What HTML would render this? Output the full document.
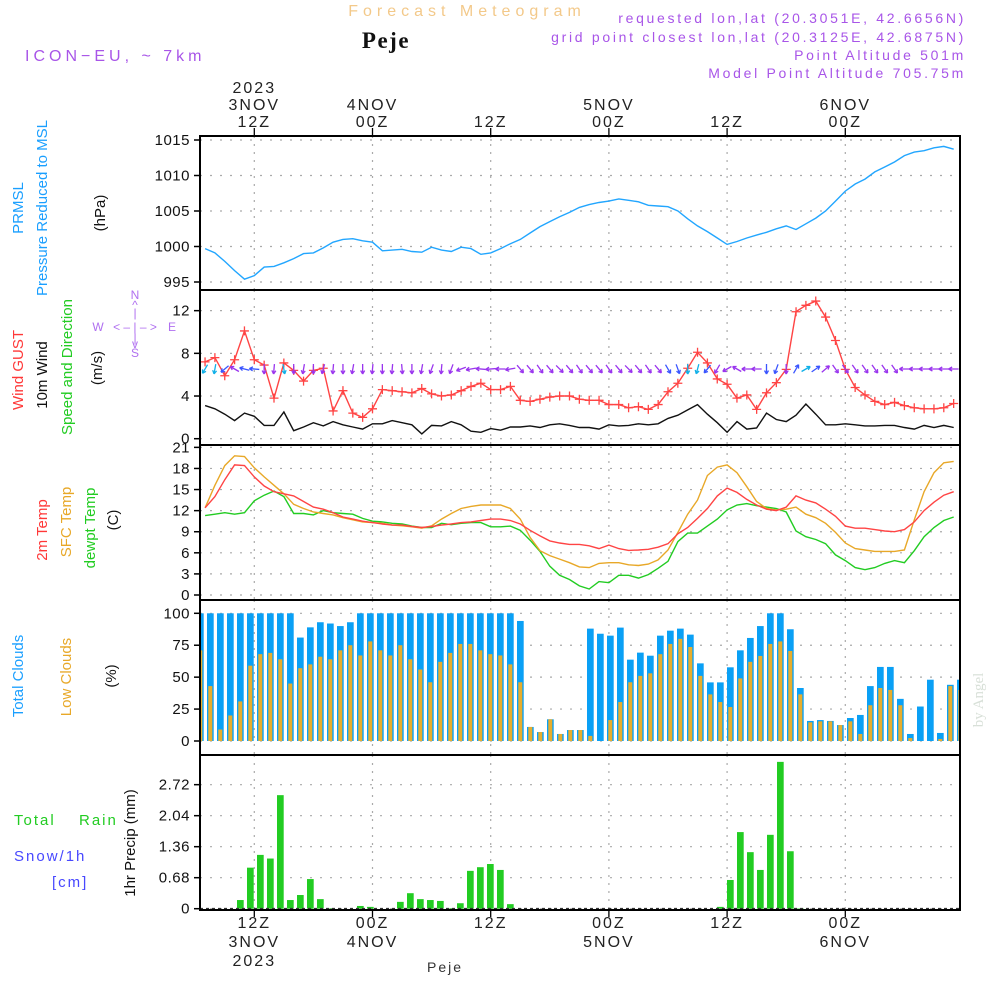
<!DOCTYPE html>
<html><head><meta charset="utf-8"><style>
html,body{margin:0;padding:0;background:#fff;width:1000px;height:1000px;overflow:hidden}
svg{display:block;font-family:"Liberation Sans",sans-serif}
</style></head><body>
<svg id="chart" width="1000" height="1000" viewBox="0 0 1000 1000" xmlns="http://www.w3.org/2000/svg">
<g id="hdr">
<text x="467" y="16" text-anchor="middle" font-size="16" fill="#f3c98a" letter-spacing="5">Forecast Meteogram</text>
<text x="386" y="48" text-anchor="middle" font-size="23" font-weight="bold" font-family="Liberation Serif,serif" fill="#111" letter-spacing="1.5">Peje</text>
<text x="25" y="61" font-size="16" fill="#a855e8" letter-spacing="4">ICON−EU, ~ 7km</text>
<g font-size="14" fill="#a855e8" text-anchor="end" letter-spacing="2.7">
<text x="966" y="23">requested lon,lat (20.3051E, 42.6656N)</text>
<text x="966" y="42">grid point closest lon,lat (20.3125E, 42.6875N)</text>
<text x="966" y="60">Point Altitude 501m</text>
<text x="966" y="78">Model Point Altitude 705.75m</text>
</g>
</g>
<g id="labels" font-size="15"></g>
<g id="plot"></g>
</svg>
<script>
// ---- data (hourly, 07Z 3NOV .. 11Z 6NOV) ----
const hourOffsets = [7,8,9,10,11,12,13,14,15,16,17,18,19,20,21,22,23,24,25,26,27,28,29,30,31,32,33,34,35,36,37,38,39,40,41,42,43,44,45,46,47,48,49,50,51,52,53,54,55,56,57,58,59,60,61,62,63,64,65,66,67,68,69,70,71,72,73,74,75,76,77,78,79,80,81,82,83];
const pressure = [999.7,999.1,997.9,996.6,995.4,995.9,997.1,997.2,997.7,998.3,999.0,999.1,999.8,1000.6,1001.0,1001.1,1000.8,1000.6,999.4,999.5,999.6,999.3,999.2,999.9,999.5,999.3,999.9,999.7,998.9,999.1,999.7,1000.4,1001.0,1001.9,1002.8,1003.5,1004.2,1004.8,1005.5,1005.9,
1006.2,1006.4,1006.7,1006.5,1006.3,1005.8,1005.7,1005.6,1005.0,1003.9,1002.9,1002.1,1001.2,1000.3,1000.7,1001.2,1001.6,1002.0,1002.5,1002.9,1002.4,1003.2,1004.0,1005.0,1006.4,1007.8,1008.8,1009.5,1010.5,1011.2,1011.9,1012.8,1013.3,1013.5,1013.9,1014.1,1013.7];
const gust = [7.2,7.6,5.9,7.4,10.1,7.4,6.9,3.8,7.1,6.4,5.4,6.4,6.6,2.6,4.5,2.4,2.0,2.8,4.6,4.5,4.4,4.3,4.7,4.2,4.0,4.1,4.5,4.9,5.2,4.6,4.6,4.9,3.6,3.5,3.7,3.9,4.0,4.0,3.7,3.6,
3.6,3.2,3.2,2.9,3.0,2.75,3.2,4.4,5.2,6.6,8.1,7.1,5.6,5.1,3.8,4.1,2.75,4.3,5.25,6.5,11.9,12.5,12.9,11.4,9.2,6.5,4.8,4.1,3.5,3.2,3.4,3.1,2.9,2.8,2.8,2.9,3.3];
const wind10m = [3.1,2.8,2.3,1.7,2.4,2.1,1.25,1.25,2.5,0.75,1.1,1.5,1.2,1.6,1.3,1.1,0.9,1.4,1.4,1.7,1.5,1.3,0.45,1.25,1.2,1.6,1.3,0.7,0.6,0.95,0.8,1.1,1.1,1.2,1.05,1.3,1.4,1.25,1.05,1.05,
0.9,1.3,1.2,1.25,1.4,1.3,1.4,1.9,2.2,2.7,3.2,2.3,1.5,0.6,1.6,0.9,1.0,2.4,1.8,1.6,2.2,3.25,2.3,1.3,1.3,1.4,1.3,1.2,1.2,1.25,1.25,1.05,0.9,1.25,1.05,1.25,1.05];
const windArrowAngle = [240,260,220,150,165,175,
270,265,280,270,260,270,255,265,270,260,270,265,270,265,275,270,260,250,265,250,
200,190,175,185,180,190,
310,310,305,310,315,310,305,310,310,305,310,315,310,305,310,
300,290,270,255,230,240,210,150,180,180,270,250,270,60,30,35,40,
305,305,305,305,305,305,305,
180,180,180,180,180,180];
const temp2m = [12.4,14.0,16.4,18.5,18.4,16.8,15.5,14.7,14.4,14.1,13.3,12.5,12.2,11.7,11.1,10.8,10.5,10.3,10.1,9.95,9.95,9.75,9.6,9.75,9.95,10.1,10.3,10.4,10.6,10.8,10.8,10.6,10.1,9.2,8.4,7.7,7.4,7.2,7.2,7.0,
6.6,7.1,6.6,6.35,6.4,6.5,6.8,7.3,8.7,9.6,10.9,12.3,14.1,15.2,14.6,13.6,12.8,12.2,12.0,12.5,14.1,13.5,13.1,12.2,11.2,9.8,9.5,9.5,9.3,9.1,9.0,9.3,10.4,12.0,13.2,14.2,14.7];
const tempSfc = [12.4,15.6,18.4,19.8,19.7,18.1,16.8,15.6,14.4,12.9,12.3,11.8,11.6,11.4,11.0,10.7,10.4,10.3,10.2,9.95,9.85,9.7,9.5,9.85,10.8,11.6,12.3,12.6,12.8,12.8,12.8,12.3,10.8,8.2,6.3,5.6,5.1,4.6,4.0,3.9,
4.5,4.6,4.6,4.3,4.2,4.4,5.0,6.4,8.9,11.5,13.5,17.0,18.2,18.5,17.4,15.4,13.3,12.3,12.1,12.2,12.5,11.5,11.0,10.2,8.9,7.4,6.6,6.4,6.2,6.2,6.2,6.4,10.7,14.7,17.4,18.8,19.0];
const dewpt = [11.3,11.5,11.7,11.5,11.7,13.4,14.2,14.8,14.0,11.6,11.6,11.4,12.0,11.7,11.6,11.5,10.9,10.5,10.4,10.2,10.1,9.8,9.6,9.6,10.2,10.0,10.2,10.3,10.3,9.7,9.7,9.8,9.2,7.8,6.2,4.1,2.8,2.2,1.3,0.85,
1.9,1.75,2.8,2.8,2.4,2.9,3.8,4.8,7.6,8.8,8.8,9.8,10.8,12.1,12.8,13.0,12.7,12.5,12.3,11.8,9.1,8.3,7.9,7.3,5.7,4.9,3.9,3.6,3.9,4.5,4.9,4.6,6.3,8.3,9.6,10.6,11.1];
const totalClouds = [100,100,100,100,100,100,100,100,100,100,81,89,93,92,90,93,100,100,100,100,100,100,100,100,100,100,100,100,100,100,100,100,94,11,7,17,5.5,8.6,8.6,
88,84,82.5,88.8,63.7,69.2,66.8,82.5,86.4,88,83.3,60.8,45.9,45.9,57.7,71,80.7,90,100,100,87.5,41.5,15.7,16.4,15.7,12.5,18,20.4,43,58,58,33,5.5,27,48,6.3,44,48];
const lowClouds = [71,43,9,20,31,59,68,69,64,45,57,60,66,64,71,75,67,78,71,67,75,64,56,46,62,69,76,76,71,68,67,60,46,11,7,17,5.5,8.6,8.6,
4,0,16.4,30.5,46,51,53,68,76,80,73.6,51,36.5,30.5,26.6,49,62,66.6,76,78,70.5,36.5,14.6,15.4,15.4,12.5,15.4,5.5,28,41.5,40,28,2.3,0,0,1.6,43,40];
const precip = [0,0,0,0,0.19,0.90,1.18,1.10,2.49,0.19,0.30,0.65,0.21,0.01,0,0,0.06,0.04,0,0,0.15,0.34,0.21,0.19,0.17,0.01,0.12,0.83,0.91,0.98,0.85,0.10,
0,0,0,0,0,0,0,0,0,0,0,0,0,0,0,0,0,0,0,0,0.04,0.63,1.68,1.24,0.85,1.62,3.22,1.26,0.01,0,0,0,0,0,0,0,0,0,0,0,0,0,0,0,0];
const pressureTicks = [995,1000,1005,1010,1015];
const windTicks = [0,4,8,12];
const tempTicks = [0,3,6,9,12,15,18,21];
const cloudTicks = [0,25,50,75,100];
const precipTicks = [0,0.68,1.36,2.04,2.72];
const timeTickHours = [12,24,36,48,60,72];
const timeTickTop = [["2023","3NOV","12Z"],["","4NOV","00Z"],["","","12Z"],["","5NOV","00Z"],["","","12Z"],["","6NOV","00Z"]];
const timeTickBottom = [["12Z","3NOV","2023"],["00Z","4NOV",""],["12Z","",""],["00Z","5NOV",""],["12Z","",""],["00Z","6NOV",""]];

// ---- scales ----
const L=200, R=960;
const xT = h => 254.3 + (h-12)*9.85;
const xB = k => 200.3 + k*10;
const panels = {p:[136,290],w:[290,445],t:[445,600],c:[600,755],r:[755,910]};
const yP = v => 140 + (1015-v)*7.1;
const yW = v => 438.7 - v*10.67;
const yTm = v => 595 - v*7.03;
const yC = v => 741 - v*1.277;
const yR = v => 908.7 - v*45.6;

const NS="http://www.w3.org/2000/svg";
const plot=document.getElementById('plot');
const labels=document.getElementById('labels');
function mk(tag, attrs, parent){const e=document.createElementNS(NS,tag);for(const k in attrs)e.setAttribute(k,attrs[k]);(parent||plot).appendChild(e);return e;}

const defs=mk('defs',{});
for(const k in panels){const cp=mk('clipPath',{id:'clip-'+k},defs);mk('rect',{x:L,y:panels[k][0],width:R-L,height:panels[k][1]-panels[k][0]},cp);}

function grid(key, ticks, yf, fmt){
  const g=mk('g',{});
  
  
  const [t,b]=panels[key];
  ticks.forEach(v=>{
    const y=yf(v);
    mk('line',{x1:L,x2:R,y1:y,y2:y,stroke:'#aaa','stroke-width':1.2,'stroke-dasharray':'2,8'},g);
    mk('line',{x1:L-6,x2:L,y1:y,y2:y,stroke:'#000','stroke-width':1.5},g);
    const tx=mk('text',{x:190,y:y+5,'text-anchor':'end','font-size':15,fill:'#111','letter-spacing':'0.5'},g);
    
    
    tx.textContent=fmt?fmt(v):String(v);
  });
  timeTickHours.forEach(h=>{
    const x=xT(h);
    mk('line',{x1:x,x2:x,y1:t,y2:b,stroke:'#aaa','stroke-width':1.2,'stroke-dasharray':'2,6'},g);
  });
}
grid('p',pressureTicks,yP);
grid('w',windTicks,yW);
grid('t',tempTicks,yTm);
grid('c',cloudTicks,yC);
grid('r',precipTicks,yR,v=>v===0?'0':v.toFixed(2));

function line(arr, yf, color, key, name){
  const pts=arr.map((v,i)=>xT(hourOffsets[i]).toFixed(1)+','+yf(v).toFixed(1)).join(' ');
  const pl=mk('polyline',{points:pts,fill:'none',stroke:color,'stroke-width':1.4,'clip-path':'url(#clip-'+key+')'});
  
  
  return pl;
}
line(pressure,yP,'#22a6ff','p','pressure-line');

line(wind10m,yW,'#111','w','wind-10m-line');
line(gust,yW,'#ff4444','w','wind-gust-line');
gust.forEach((v,i)=>{
  const x=xT(hourOffsets[i]), y=yW(v);
  const m=mk('path',{d:`M${x-4.5},${y}h9M${x},${y-4.5}v9`,stroke:'#ff4444','stroke-width':1.3});
  
  
});
windArrowAngle.forEach((a,i)=>{
  const x=xT(hourOffsets[i]), y=369, sp=wind10m[i];
  const col = sp>=2.5?'#11b0e8':(sp>=1.8?'#3a55ff':'#9a35ee');
  const r=a*Math.PI/180, dx=Math.cos(r), dy=-Math.sin(r);
  const x1=x-dx*5,y1=y-dy*5,x2=x+dx*5,y2=y+dy*5;
  const h1=(a+150)*Math.PI/180, h2=(a-150)*Math.PI/180;
  const d=`M${x1},${y1}L${x2},${y2}M${x2},${y2}l${Math.cos(h1)*4},${-Math.sin(h1)*4}M${x2},${y2}l${Math.cos(h2)*4},${-Math.sin(h2)*4}`;
  const p=mk('path',{d:d,stroke:col,'stroke-width':1.3,fill:'none','clip-path':'url(#clip-w)'});
  
  
});

line(dewpt,yTm,'#22cc22','t','dewpoint-line');
line(tempSfc,yTm,'#e8a828','t','sfc-temp-line');
line(temp2m,yTm,'#ff4444','t','temp-2m-line');

totalClouds.forEach((v,k)=>{
  const x=xB(k);
  const b=mk('rect',{x:x-3.3,y:yC(v),width:6.7,height:yC(0)-yC(v),fill:'#0aa0f5','clip-path':'url(#clip-c)'});
  
  
});
lowClouds.forEach((v,k)=>{
  if(v<=0)return;
  const x=xB(k);
  const b=mk('rect',{x:x-2,y:yC(v),width:4,height:yC(0)-yC(v),fill:'#e8ad2c','clip-path':'url(#clip-c)'});
  
  
});
precip.forEach((v,k)=>{
  if(v<=0)return;
  const x=xB(k);
  const b=mk('rect',{x:x-3.3,y:yR(v),width:6.7,height:yR(0)-yR(v),fill:'#22cc22','clip-path':'url(#clip-r)'});
  
  
});
mk('line',{x1:L,x2:R,y1:908.5,y2:908.5,stroke:'#333','stroke-width':1.2,'stroke-dasharray':'3,3'});

for(const k in panels){
  const [t,b]=panels[k];
  const f=mk('rect',{x:L,y:t,width:R-L,height:b-t,fill:'none',stroke:'#000','stroke-width':2});
  
  
}
timeTickHours.forEach((h,i)=>{
  const x=xT(h);
  mk('line',{x1:x,x2:x,y1:128,y2:136,stroke:'#000','stroke-width':1.3});
  mk('line',{x1:x,x2:x,y1:910,y2:917,stroke:'#000','stroke-width':1.3});
  timeTickTop[i].forEach((s,j)=>{ if(!s)return;
    const t=mk('text',{x:x,y:93+j*17,'text-anchor':'middle','font-size':16,fill:'#222','letter-spacing':'2'});
    
    
    t.textContent=s; });
  timeTickBottom[i].forEach((s,j)=>{ if(!s)return;
    const t=mk('text',{x:x,y:928+j*19,'text-anchor':'middle','font-size':16,fill:'#222','letter-spacing':'2'});
    
    
    t.textContent=s; });
});

function vtext(txt,x,y,color,name,size){
  const t=mk('text',{x:x,y:y,'text-anchor':'middle',fill:color,'font-size':size||15,transform:`rotate(-90 ${x} ${y})`},labels);
  
  
  t.textContent=txt;
}
function htext(txt,x,y,color,name,size,anchor){
  const t=mk('text',{x:x,y:y,fill:color,'font-size':size||15,'text-anchor':anchor||'start','letter-spacing':'2'},labels);
  
  
  t.textContent=txt;
}
vtext('PRMSL',23,208,'#1a9fff','prmsl-label');
vtext('Pressure Reduced to MSL',47,208,'#1a9fff','pressure-title');
vtext('(hPa)',105,213,'#111','pressure-unit');
vtext('Wind GUST',23,370,'#ff3838','wind-gust-title');
vtext('10m Wind',47,375,'#111','wind-10m-title');
vtext('Speed and Direction',72,367,'#22cc22','wind-speed-dir-title');
vtext('(m/s)',102,368,'#111','wind-unit');
vtext('2m Temp',47,530,'#ff3838','temp-2m-title');
vtext('SFC Temp',71,522,'#e8a828','sfc-temp-title');
vtext('dewpt Temp',95,528,'#22cc22','dewpt-title');
vtext('(C)',118,520,'#111','temp-unit');
vtext('Total Clouds',23,676,'#1a9fff','total-clouds-title');
vtext('Low Clouds',71,677,'#e8a828','low-clouds-title');
vtext('(%)',116,676,'#111','clouds-unit');
vtext('1hr Precip (mm)',135,843,'#111','precip-title');
htext('Total',14,825,'#22cc22','total-rain-label');
htext('Rain',79,825,'#22cc22','rain-label');
htext('Snow/1h',14,861,'#4848ff','snow-label');
htext('[cm]',52,887,'#4848ff','snow-unit');
htext('Peje',445,972,'#333','footer-location',14,'middle');
const ba=mk('text',{x:983,y:700,'text-anchor':'middle',fill:'#d8e0d8','font-size':15,'font-family':'Liberation Serif,serif',transform:'rotate(-90 983 700)'},labels);


ba.textContent='by Angel';
const cg=mk('g',{fill:'#b070f0','font-size':12,'text-anchor':'middle'},labels);


[['N',135,299],['^',135,309],['|',135,317],['W',98,331],['< – | – >',135,331],['E',172,331],['|',135,342],['v',135,348],['S',135,357]].forEach(([s,x,y])=>{const t=mk('text',{x:x,y:y},cg);t.textContent=s;});
</script>
</body></html>
